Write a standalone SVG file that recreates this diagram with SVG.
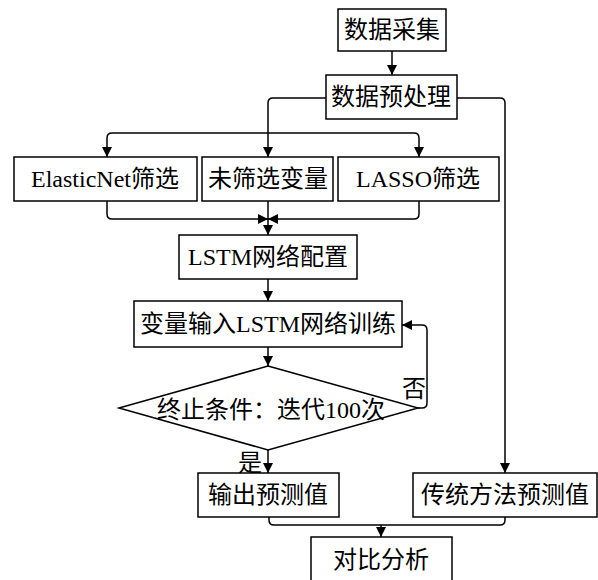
<svg xmlns="http://www.w3.org/2000/svg" width="598" height="580" viewBox="0 0 598 580">
<style>
.box{fill:#fff;stroke:#000;stroke-width:1.5}
.t{font-family:"Liberation Serif","Noto Sans CJK SC",serif;font-size:24px;fill:#000;text-anchor:middle;dominant-baseline:central}
.c{fill:none;stroke:#000;stroke-width:1.5}
</style>
<defs>
<marker id="ah" markerUnits="userSpaceOnUse" markerWidth="12" markerHeight="12" viewBox="0 0 12 12" refX="11" refY="6" orient="auto">
<path d="M1,1 L11,6 L1,11 Z" fill="#000"/>
</marker>
</defs>
<rect width="598" height="580" fill="#fff"/>
<g id="connectors">
<path class="c" d="M392,51 V75" marker-end="url(#ah)"/>
<path class="c" d="M326,98 H273 Q268,98 268,103 V157" marker-end="url(#ah)"/>
<path class="c" d="M457,98 H500 Q505,98 505,103 V473" marker-end="url(#ah)"/>
<path class="c" d="M268,133 H112 Q107,133 107,138 V157" marker-end="url(#ah)"/>
<path class="c" d="M268,133 H414 Q419,133 419,138 V157" marker-end="url(#ah)"/>
<path class="c" d="M107,201 V214 Q107,219 112,219 H268" marker-end="url(#ah)"/>
<path class="c" d="M419,201 V214 Q419,219 414,219 H268" marker-end="url(#ah)"/>
<path class="c" d="M268,201 V235" marker-end="url(#ah)"/>
<path class="c" d="M268,279 V301" marker-end="url(#ah)"/>
<path class="c" d="M268,347 V366" marker-end="url(#ah)"/>
<path class="c" d="M418,408 H422 Q427,408 427,403 V330 Q427,325 422,325 H402" marker-end="url(#ah)"/>
<path class="c" d="M268,450 V473" marker-end="url(#ah)"/>
<path class="c" d="M269,517 V520 Q269,525 274,525 H500 Q505,525 505,520 V517"/>
<path class="c" d="M381,525 V537" marker-end="url(#ah)"/>
</g>
<g id="n1"><rect class="box" x="338" y="9" width="108" height="42"/><text class="t" x="392" y="30">数据采集</text></g>
<g id="n2"><rect class="box" x="326" y="75" width="131" height="44"/><text class="t" x="391" y="97">数据预处理</text></g>
<g id="n3"><rect class="box" x="14" y="157" width="183" height="44"/><text class="t" x="105" y="179">ElasticNet筛选</text></g>
<g id="n4"><rect class="box" x="202" y="157" width="131" height="44"/><text class="t" x="268" y="179">未筛选变量</text></g>
<g id="n5"><rect class="box" x="338" y="157" width="161" height="44"/><text class="t" x="418" y="179">LASSO筛选</text></g>
<g id="n6"><rect class="box" x="179" y="235" width="178" height="44"/><text class="t" x="268" y="257">LSTM网络配置</text></g>
<g id="n7"><rect class="box" x="134" y="301" width="268" height="46"/><text class="t" x="268" y="324">变量输入LSTM网络训练</text></g>
<g id="n8"><polygon class="box" points="268,366 418,408 268,450 119,408"/><text class="t" x="271" y="410">终止条件：迭代100次</text></g>
<g id="n9"><rect class="box" x="198" y="473" width="141" height="44"/><text class="t" x="268" y="495">输出预测值</text></g>
<g id="n10"><rect class="box" x="413" y="473" width="184" height="44"/><text class="t" x="505" y="495">传统方法预测值</text></g>
<g id="n11"><rect class="box" x="311" y="537" width="141" height="50"/><text class="t" x="381" y="560">对比分析</text></g>
<g id="labels">
<text class="t" x="414" y="389">否</text>
<text class="t" x="250" y="463">是</text>
</g>
</svg>
